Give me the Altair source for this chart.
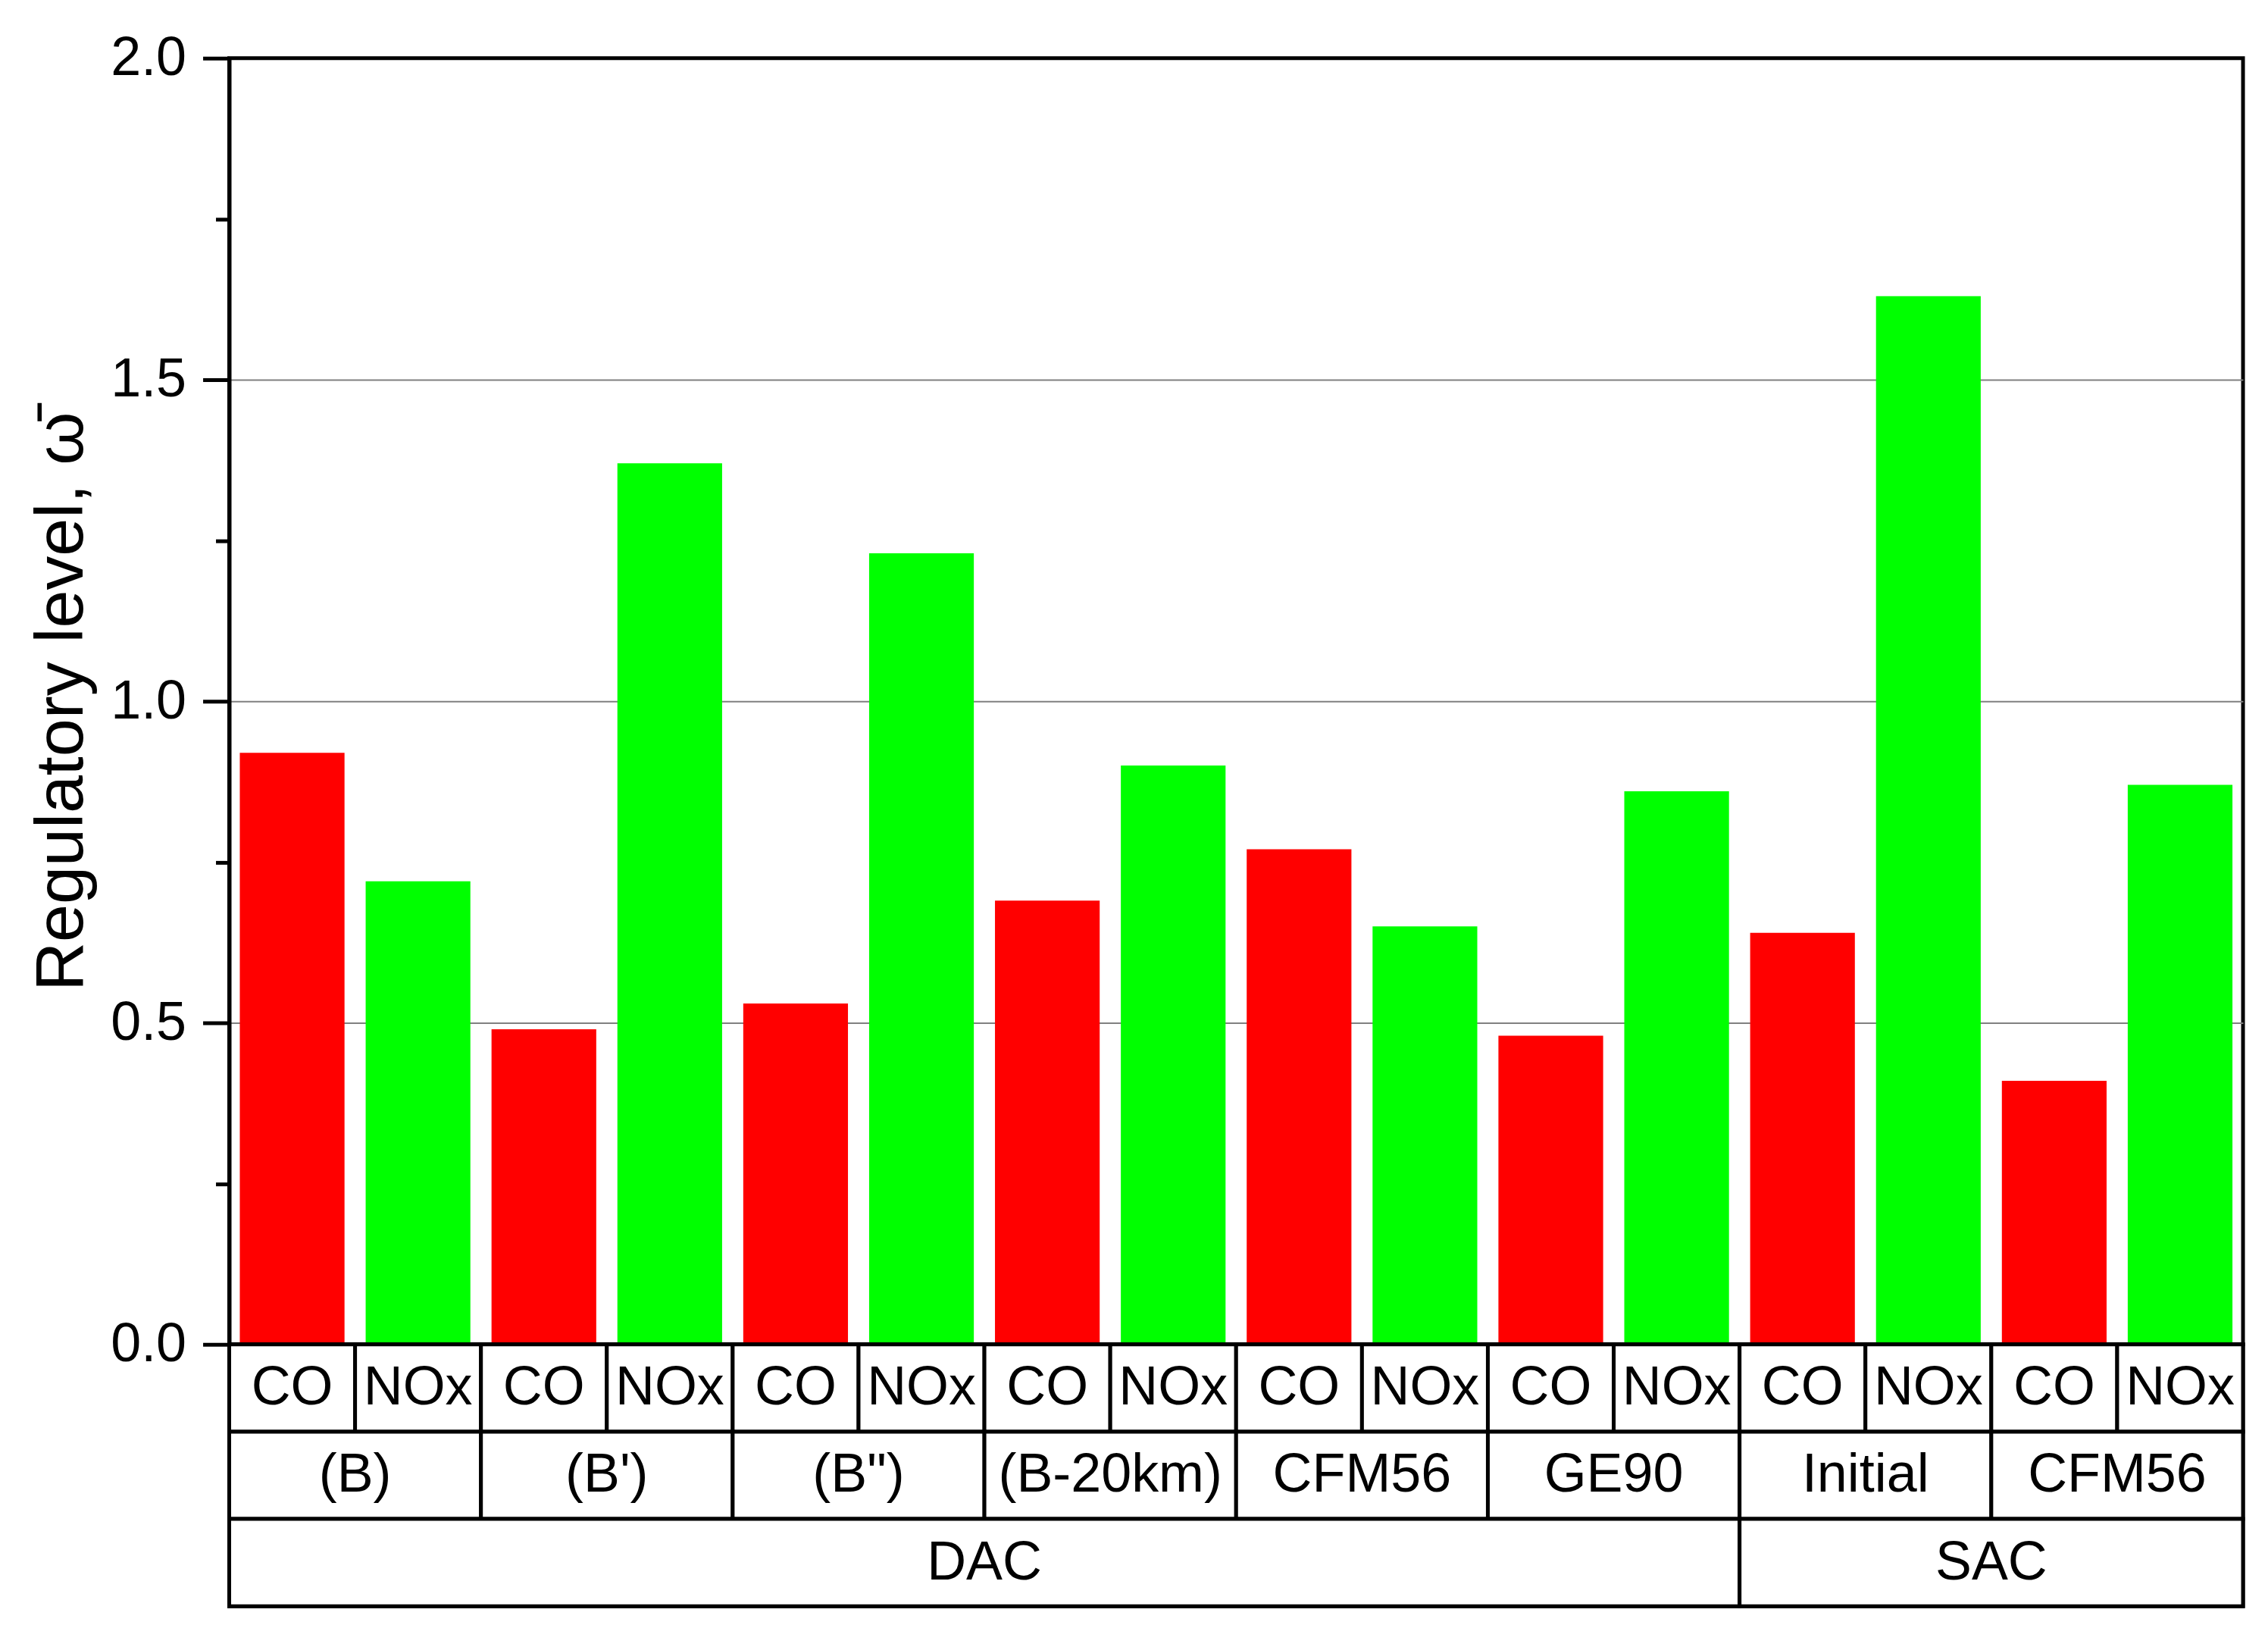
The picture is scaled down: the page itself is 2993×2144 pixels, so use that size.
import altair as alt
import pandas as pd

# ---- data ----
groups = ["DAC", "DAC", "DAC", "DAC", "DAC", "DAC", "SAC", "SAC"]
engines = ["(B)", "(B')", '(B")', "(B-20km)", "CFM56", "GE90", "Initial", "CFM56"]
pollutants = ["CO", "NOx"]
co_values = [0.92, 0.49, 0.53, 0.69, 0.77, 0.48, 0.64, 0.41]
nox_values = [0.72, 1.37, 1.23, 0.90, 0.65, 0.86, 1.63, 0.87]
y_major = [0.0, 0.5, 1.0, 1.5, 2.0]
y_all = sorted(set(y_major + [(a + b) / 2 for a, b in zip(y_major[:-1], y_major[1:])]))

# ---- tables built from the lists ----
bar_rows = []
for j, eng in enumerate(engines):
    for k, (pol, val) in enumerate(zip(pollutants, [co_values[j], nox_values[j]])):
        bar_rows.append({"idx": 2 * j + k, "pollutant": pol, "value": val,
                         "engine": eng, "group": groups[j]})
bar_df = pd.DataFrame(bar_rows)
n_bars = len(bar_df)

cells = []
for r in bar_rows:
    cells.append({"row": 1, "start": r["idx"], "end": r["idx"] + 1, "label": r["pollutant"]})
for j, eng in enumerate(engines):
    cells.append({"row": 2, "start": 2 * j, "end": 2 * j + 2, "label": eng})
start = 0
for j in range(1, len(groups) + 1):
    if j == len(groups) or groups[j] != groups[start]:
        cells.append({"row": 3, "start": 2 * start, "end": 2 * j, "label": groups[start]})
        start = j
cell_df = pd.DataFrame(cells)

W = 2662
H = 1700
TABLE_H = 346
LW = 5

bars = alt.Chart(bar_df).mark_bar().encode(
    x=alt.X("idx:O", scale=alt.Scale(paddingInner=0.168, paddingOuter=0.084), axis=None),
    y=alt.Y(
        "value:Q",
        scale=alt.Scale(domain=[0, 2], nice=False, zero=True),
        axis=alt.Axis(
            values=y_all,
            labelExpr="datum.value % 0.5 === 0 ? format(datum.value, '.1f') : ''",
            tickSize={"condition": {"test": "datum.value % 0.5 !== 0", "value": 18}, "value": 35},
            tickWidth=LW,
            tickColor="black",
            domainColor="black",
            domainWidth=LW,
            grid=True,
            gridColor="#808080",
            gridWidth=2,
            gridOpacity={"condition": {"test": "datum.value > 0 && datum.value < 2 && datum.value % 0.5 === 0", "value": 1}, "value": 0},
            labelFontSize=72,
            labelColor="black",
            labelPadding=22,
            titleFontSize=90,
            titleFontWeight="normal",
            titleColor="black",
            titlePadding=18,
        ),
        title="Regulatory level, \u03c9\u0304",
    ),
    color=alt.Color("pollutant:N",
                    scale=alt.Scale(domain=pollutants, range=["#ff0000", "#00ff00"]),
                    legend=None),
).properties(width=W, height=H)

base = alt.Chart(cell_df).transform_calculate(mid="(datum.start + datum.end) / 2")
xscale = alt.Scale(domain=[0, n_bars], nice=False, zero=False)
yrow = alt.Y("row:O", scale=alt.Scale(paddingInner=0, paddingOuter=0), axis=None)
rects = base.mark_rect(fill="white", stroke="black", strokeWidth=LW).encode(
    x=alt.X("start:Q", scale=xscale, axis=None),
    x2="end:Q",
    y=yrow,
)
texts = base.mark_text(fontSize=72, color="black", baseline="middle", align="center").encode(
    x=alt.X("mid:Q", scale=xscale, axis=None),
    y=yrow,
    text="label:N",
)
table = (rects + texts).properties(width=W, height=TABLE_H)

chart = alt.vconcat(bars, table, spacing=0, bounds="flush").configure(
    font="Liberation Sans"
).configure_view(
    stroke="black", strokeWidth=LW
).properties(
    padding={"left": 26, "top": 28, "right": 20, "bottom": 10}
)

chart.save("out.html", embed_options={"renderer": "svg", "actions": False})
